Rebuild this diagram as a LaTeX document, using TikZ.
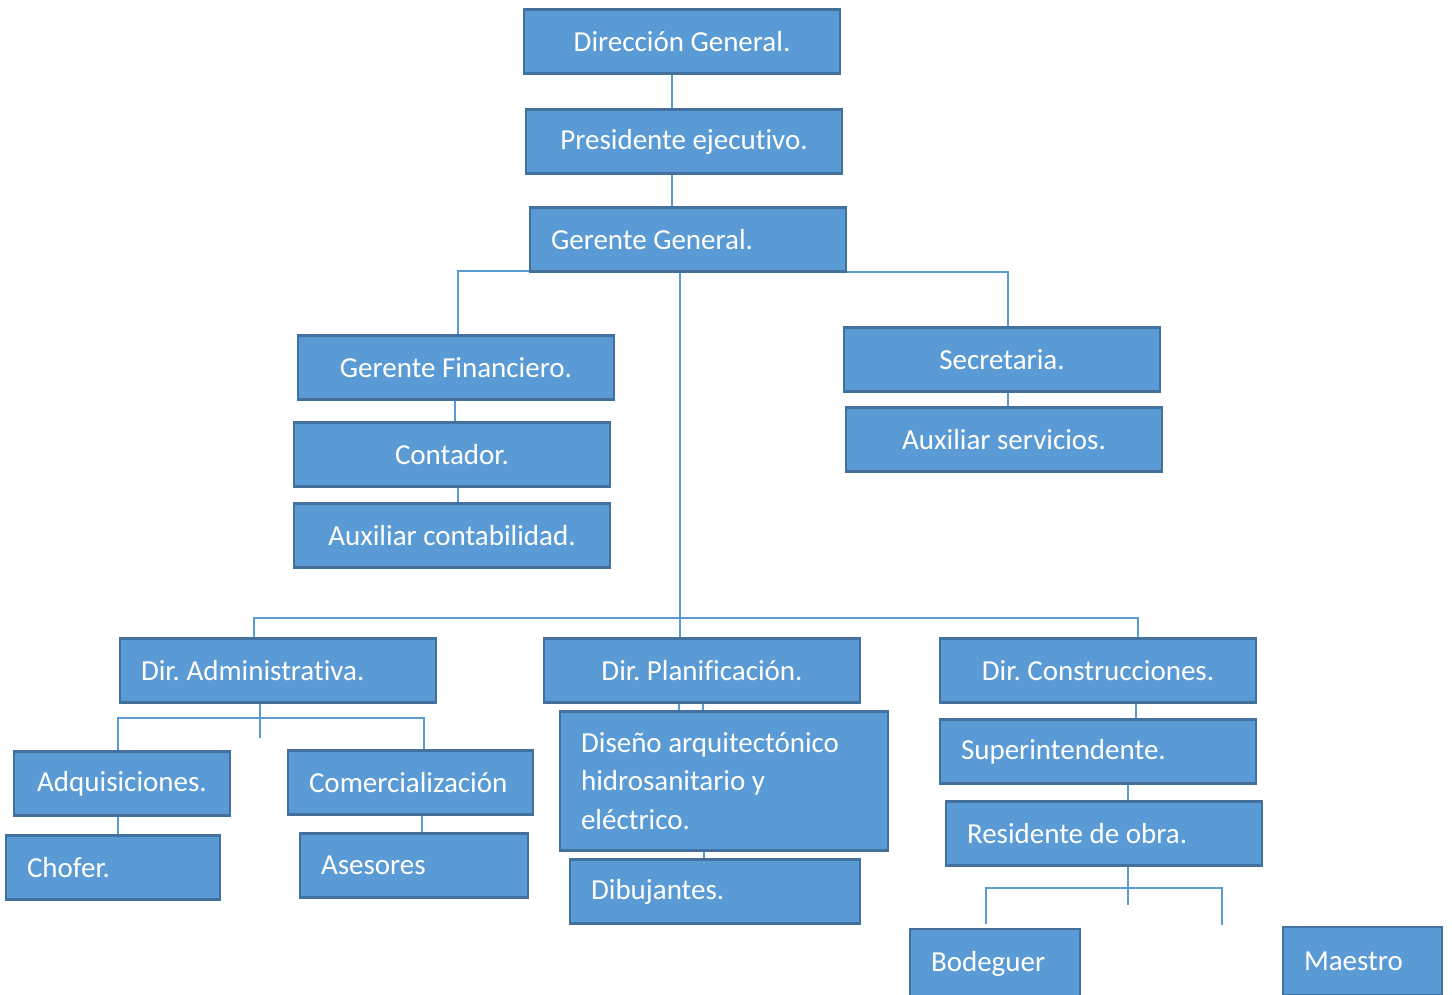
\documentclass[tikz,border=0pt]{standalone}
\usepackage{fontspec}
\setmainfont{Carlito}[Ligatures={NoCommon,NoRequired,NoContextual},Contextuals=NoAlternate,RawFeature={-liga;-clig;-calt;-ccmp}]
\definecolor{cajaazul}{HTML}{5B9BD5}
\definecolor{bordeazul}{HTML}{41719C}
\tikzset{
	caja/.style={draw=bordeazul, fill=cajaazul, line width=1.6pt, text=white,
		minimum width=6.32cm, minimum height=1.28cm, inner sep=0pt,
		font=\fontsize{16.5}{22}\selectfont},
	izq/.style={inner xsep=0.42cm, minimum width=0pt, text width=#1, align=flush left},
	linea/.style={draw=cajaazul, line width=0.8pt}
}
\frenchspacing
\begin{document}
	\begin{tikzpicture}[x=0.02cm,y=-0.02cm]
		\useasboundingbox (0,0) rectangle (1452,994);
		
		% direccion
		\node[caja] (dg) at (682,41.5) {Dirección General.};
		\node[caja] (pe) at (684,141.5) {Presidente ejecutivo.};
		\node[caja, izq=5.48cm] (gg) at (688,239.5) {Gerente General.};
		
		% finanzas y secretaria
		\node[caja] (gf) at (456,367.5) {Gerente Financiero.};
		\node[caja] (cont) at (452,454.5) {Contador.};
		\node[caja] (auxc) at (452,535.5) {Auxiliar contabilidad.};
		\node[caja] (sec) at (1002,359.5) {Secretaria.};
		\node[caja] (auxs) at (1004,439.5) {Auxiliar servicios.};
		
		% direcciones
		\node[caja, izq=5.48cm] (dadm) at (278,670.5) {Dir. Administrativa.};
		\node[caja] (dpla) at (702,670.5) {Dir. Planificación.};
		\node[caja] (dcon) at (1098,670.5) {Dir. Construcciones.};
		
		\node[caja, minimum width=4.32cm] (adq) at (122,783.5) {Adquisiciones.};
		\node[caja, izq=4.06cm] (com) at (410.5,782.5) {Comercialización};
		\node[caja, izq=3.44cm] (chof) at (113,867.5) {Chofer.};
		\node[caja, izq=3.72cm] (ases) at (414,865.5) {Asesores};
		
		\node[caja, izq=5.72cm, minimum height=2.78cm] (dis) at (724,781)
			{Diseño arquitectónico\\hidrosanitario y\\eléctrico.};
		\node[caja, izq=4.96cm] (dib) at (715,891.5) {Dibujantes.};
		
		\node[caja, izq=5.48cm] (sup) at (1098,751.5) {Superintendente.};
		\node[caja, izq=5.48cm] (res) at (1104,833.5) {Residente de obra.};
		\node[caja, izq=2.56cm, minimum height=1.4cm] (bod) at (995,964) {Bodeguer};
		\node[caja, izq=2.34cm, minimum height=1.36cm] (mae) at (1362.5,961) {Maestro};
		
		% lineas
		\draw[linea] (dg.south -| 672,0) -- (pe.north -| 672,0);
		\draw[linea] (pe.south -| 672,0) -- (gg.north -| 672,0);
		\draw[linea] ([yshift=0.04cm]gg.south west) -| ([xshift=0.04cm]gf.north);
		\draw[linea] ([yshift=0.02cm]gg.south east) -| ([xshift=0.12cm]sec.north);
		\draw[linea] (gg.south -| 680,0) -- (dpla.north -| 680,0);
		\draw[linea] (dadm.north -| 254,0) |- (1138,618) -- (dcon.north -| 1138,0);
		
		\draw[linea] (gf.south -| 455,0) -- (cont.north -| 455,0);
		\draw[linea] (cont.south -| 458,0) -- (auxc.north -| 458,0);
		\draw[linea] (sec.south -| 1008,0) -- (auxs.north -| 1008,0);
		
		\coordinate (finadm) at (260,738);
		\draw[linea] (dadm.south -| 260,0) -- (finadm);
		\draw[linea] (adq.north -| 118,0) |- (424,718) -- (com.north -| 424,0);
		\draw[linea] (adq.south -| 118,0) -- (chof.north -| 118,0);
		\draw[linea] (com.south -| 422,0) -- (ases.north -| 422,0);
		
		\draw[linea] (dpla.south -| 679,0) -- (dis.north -| 679,0);
		\draw[linea] (dpla.south -| 703,0) -- (dis.north -| 703,0);
		\draw[linea] (dis.south -| 704,0) -- (dib.north -| 704,0);
		
		\draw[linea] (dcon.south -| 1136,0) -- (sup.north -| 1136,0);
		\draw[linea] (sup.south -| 1128,0) -- (res.north -| 1128,0);
		\coordinate (finres) at (1128,905);
		\coordinate (finmae) at (1222,925);
		\draw[linea] (res.south -| 1128,0) -- (finres);
		\draw[linea] ([yshift=0.08cm]bod.north -| 986,0) |- (1222,888) -- (finmae);
	\end{tikzpicture}
\end{document}
